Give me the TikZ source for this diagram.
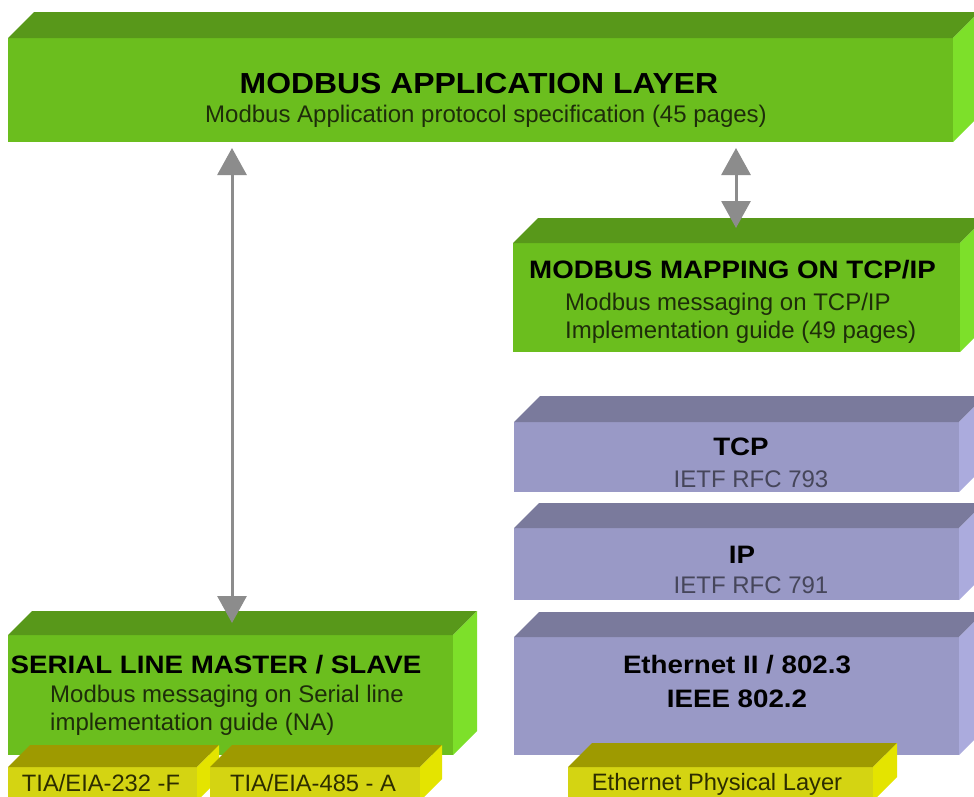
\documentclass[tikz,border=0pt]{standalone}
\usepackage{fontspec}
\setmainfont{Liberation Sans}
\newfontfamily\widebold{Liberation Sans}[FakeStretch=1.1]
\usetikzlibrary{arrows.meta}
\definecolor{gfront}{HTML}{6BBE1E}
\definecolor{gtop}{HTML}{58981A}
\definecolor{gside}{HTML}{7DE02A}
\definecolor{pfront}{HTML}{9999C6}
\definecolor{ptop}{HTML}{7A7A9C}
\definecolor{pside}{HTML}{ABABDD}
\definecolor{yfront}{HTML}{D4D412}
\definecolor{ytop}{HTML}{9E9A00}
\definecolor{yside}{HTML}{E4E400}
\definecolor{gtext}{HTML}{1E2D0A}
\definecolor{ptext}{HTML}{46465A}
\definecolor{ytext}{HTML}{2D2D00}
\definecolor{arrowgray}{HTML}{8C8C8C}
\newcommand\cubefaces[3]{%
  \fill[#3top] (#1.north west) -- ([shift={(#2,-#2)}]#1.north west) -- ([shift={(#2,-#2)}]#1.north east) -- (#1.north east) -- cycle;
  \fill[#3side] (#1.north east) -- ([shift={(#2,-#2)}]#1.north east) -- ([shift={(#2,-#2)}]#1.south east) -- (#1.south east) -- cycle;}
\tikzset{
  face/.style={inner sep=0pt, outer sep=0pt, draw=none, anchor=north west},
  gbox/.style={face, fill=gfront},
  pbox/.style={face, fill=pfront},
  ybox/.style={face, fill=yfront},
  gtop/.style={fill=gtop}, gside/.style={fill=gside},
  ptop/.style={fill=ptop}, pside/.style={fill=pside},
  ytop/.style={fill=ytop}, yside/.style={fill=yside},
  titlebig/.style={anchor=base, inner sep=0pt, font=\widebold\bfseries\fontsize{29}{34}\selectfont, text=black},
  title/.style={anchor=base, inner sep=0pt, font=\widebold\bfseries\fontsize{25.2}{30}\selectfont, text=black},
  gsub/.style={inner sep=0pt, font=\fontsize{24}{28}\selectfont, text=gtext},
  psub/.style={anchor=base, inner sep=0pt, font=\fontsize{24}{28}\selectfont, text=ptext},
  ysub/.style={anchor=base, inner sep=0pt, font=\fontsize{23.7}{28}\selectfont, text=ytext},
  dbl/.style={draw=arrowgray, line width=3pt, {Triangle[width=29pt,length=27pt]}-{Triangle[width=29pt,length=27pt]}, arrowgray}
}
\begin{document}
\begin{tikzpicture}[x=1pt,y=-1pt]
\useasboundingbox (0,0) rectangle (974,796);
\clip (0,0) rectangle (974,796);
\fill[white] (0,0) rectangle (974,796);
% application layer
\node[gbox, minimum width=945pt, minimum height=104pt] (app) at (8,38) {};
\cubefaces{app}{26}{g}
\node[titlebig] (appT) at (479,93) {MODBUS APPLICATION LAYER};
\node[gsub, anchor=base] (appS) at (486,122) {Modbus Application protocol specification (45 pages)};
% mapping on tcp/ip
\node[gbox, minimum width=447pt, minimum height=109pt] (map) at (513,243) {};
\cubefaces{map}{25}{g}
\node[title] (mapT) at (732.5,278) {MODBUS MAPPING ON TCP/IP};
\node[gsub, anchor=base west] (mapS1) at (565,310) {Modbus messaging on TCP/IP};
\node[gsub, anchor=base west] (mapS2) at (565,338) {Implementation guide (49 pages)};
% TCP
\node[pbox, minimum width=445pt, minimum height=70pt] (tcp) at (514,422) {};
\cubefaces{tcp}{26}{p}
\node[title] (tcpT) at (741,455) {TCP};
\node[psub] (tcpS) at (751,487) {IETF RFC 793};
% IP
\node[pbox, minimum width=445pt, minimum height=72pt] (ip) at (514,528) {};
\cubefaces{ip}{25}{p}
\node[title] (ipT) at (742,563) {IP};
\node[psub] (ipS) at (751,593) {IETF RFC 791};
% Ethernet
\node[pbox, minimum width=445pt, minimum height=118pt] (eth) at (514,637) {};
\cubefaces{eth}{25}{p}
\node[title] (ethT1) at (737,673) {Ethernet II / 802.3};
\node[title] (ethT2) at (737,707) {IEEE 802.2};
% Serial line
\node[gbox, minimum width=445pt, minimum height=120pt] (serial) at (8,635) {};
\cubefaces{serial}{24}{g}
\node[title] (serT) at (216,673) {SERIAL LINE MASTER / SLAVE};
\node[gsub, anchor=base west] (serS1) at (50,702) {Modbus messaging on Serial line};
\node[gsub, anchor=base west] (serS2) at (50,730) {implementation guide (NA)};
% physical layers
\node[ybox, minimum width=189pt, minimum height=34pt] (tia232) at (8,767) {};
\cubefaces{tia232}{22}{y}
\node[ysub] (tia232T) at (101,791) {TIA/EIA-232 -F};
\node[ybox, minimum width=210pt, minimum height=34pt] (tia485) at (210,767) {};
\cubefaces{tia485}{22}{y}
\node[ysub] (tia485T) at (313,791) {TIA/EIA-485 - A};
\node[ybox, minimum width=305pt, minimum height=34pt] (ethphy) at (568,767) {};
\cubefaces{ethphy}{24}{y}
\node[ysub] (ethphyT) at (717,790) {Ethernet Physical Layer};
% arrows
\path (app.south west) ++(224,6) coordinate (aTop);
\path (serial.north west) ++(224,-12) coordinate (aBot);
\draw[dbl] (aTop) -- (aBot);
\path (app.south west) ++(728,6) coordinate (bTop);
\path (map.north west) ++(223,-15) coordinate (bBot);
\draw[dbl] (bTop) -- (bBot);
\end{tikzpicture}
\end{document}
